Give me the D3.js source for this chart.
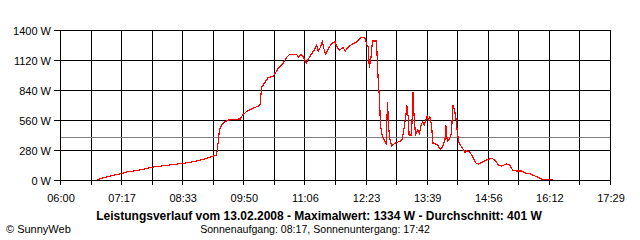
<!DOCTYPE html>
<html>
<head>
<meta charset="utf-8">
<script src="https://cdn.jsdelivr.net/npm/d3@7"></script>
<style>
html,body{margin:0;padding:0;background:#fff;}
svg{display:block;}
text{font-family:"Liberation Sans",Arial,sans-serif;}
</style>
</head>
<body>
<svg id="chart" width="640" height="240"></svg>
<script>
// ---- data ----
const times = ["06:46","06:54","07:03","07:13","07:24","07:40","07:57","08:14","08:35","08:47","09:00","09:10","09:16","09:17","09:19","09:20","09:23","09:27","09:33","09:46","09:49","09:54","10:02","10:09","10:11","10:13","10:15","10:21","10:27","10:30","10:34","10:39","10:45","10:48","10:57","10:59","11:02","11:05","11:09","11:11","11:16","11:19","11:22","11:24","11:27","11:29","11:31","11:33","11:37","11:41","11:45","11:48","11:51","11:55","11:58","12:02","12:08","12:12","12:16","12:20","12:23","12:25","12:27","12:28","12:30","12:32","12:37","12:39","12:41","12:42","12:44","12:48","12:49","12:51","12:52","12:54","12:56","13:00","13:07","13:09","13:11","13:14","13:15","13:17","13:18","13:21","13:23","13:24","13:26","13:29","13:31","13:33","13:35","13:37","13:39","13:41","13:42","13:44","13:46","13:48","13:53","13:57","14:00","14:03","14:04","14:06","14:09","14:11","14:13","14:15","14:17","14:18","14:20","14:22","14:26","14:28","14:30","14:34","14:38","14:42","14:45","14:51","14:55","15:02","15:06","15:10","15:14","15:20","15:24","15:28","15:33","15:39","15:43","15:50","15:56","16:00","16:04","16:08","16:18"];
const power = [0,19,37,53,75,93,121,137,156,171,193,218,233,264,389,467,513,544,566,569,607,638,669,691,706,871,887,955,966,995,1048,1080,1151,1173,1173,1142,1173,1151,1089,1120,1182,1213,1260,1204,1244,1291,1229,1173,1229,1276,1291,1236,1213,1236,1204,1244,1276,1285,1322,1334,1322,1260,1244,1042,1135,1297,1297,964,731,513,420,351,342,731,513,373,320,342,364,373,451,607,700,576,420,420,824,622,420,467,435,513,544,513,560,607,560,591,513,342,333,289,311,373,513,358,389,435,700,653,560,482,358,327,286,255,273,264,211,156,149,171,187,202,180,140,131,149,140,93,84,84,68,56,37,25,9,6,6];
const yTicks = [0,280,560,840,1120,1400];
const xTickLabels = ["06:00","07:17","08:33","09:50","11:06","12:23","13:39","14:56","16:12","17:29"];
const average = 401;
const title = "Leistungsverlauf vom 13.02.2008 - Maximalwert: 1334 W - Durchschnitt: 401 W";
const subtitle = "Sonnenaufgang: 08:17, Sonnenuntergang: 17:42";
const credit = "\u00A9 SunnyWeb";

// ---- layout ----
const svg = d3.select("#chart");
const L = 60, R = 610, T = 30, B = 180;
const toMin = s => { const [h,m] = s.split(":").map(Number); return h*60+m; };
const x = d3.scaleLinear().domain([360, 1050]).range([L, R]);
const y = d3.scaleLinear().domain([0, 1400]).range([B, T]);

const nV = 18;
const vMinutes = d3.range(nV + 1).map(i => 360 + i * (690 / nV));

const g = svg.append("g").attr("shape-rendering", "crispEdges");

// vertical gridlines (with ticks below)
g.selectAll("line.v").data(vMinutes).enter().append("line")
  .attr("x1", d => Math.round(x(d)) + 0.5).attr("x2", d => Math.round(x(d)) + 0.5)
  .attr("y1", T).attr("y2", B + 5)
  .attr("stroke", "#000").attr("stroke-width", 1);

// horizontal gridlines (with ticks left)
g.selectAll("line.h").data(yTicks).enter().append("line")
  .attr("x1", L - 6).attr("x2", R + 1)
  .attr("y1", d => Math.round(y(d)) + 0.5).attr("y2", d => Math.round(y(d)) + 0.5)
  .attr("stroke", "#000").attr("stroke-width", 1);

// average line
g.append("line")
  .attr("x1", L + 1).attr("x2", R)
  .attr("y1", Math.round(y(average)) + 0.5).attr("y2", Math.round(y(average)) + 0.5)
  .attr("stroke", "#808080").attr("stroke-width", 1);

// y labels
svg.selectAll("text.yl").data(yTicks).enter().append("text")
  .attr("x", 51).attr("y", d => Math.round(y(d)) + 4.5)
  .attr("text-anchor", "end").attr("font-size", "11px").attr("fill", "#000")
  .text(d => d + " W");

// x labels
svg.selectAll("text.xl").data(xTickLabels).enter().append("text")
  .attr("x", (d, i) => x(vMinutes[i * 2]) + 1).attr("y", 202)
  .attr("text-anchor", "middle").attr("font-size", "11px").attr("fill", "#000")
  .text(d => d);

// data line
const data = times.map((t, i) => ({ t: toMin(t), v: power[i] }));
svg.append("path").datum(data)
  .attr("d", d3.line().x(d => x(d.t)).y(d => y(d.v)))
  .attr("fill", "none").attr("stroke", "#ff0000").attr("stroke-width", 1.2)
  .attr("shape-rendering", "crispEdges")
  .attr("stroke-linejoin", "miter");

// texts
svg.append("text").attr("x", 319).attr("y", 220).attr("text-anchor", "middle")
  .attr("font-size", "12px").attr("font-weight", "bold").attr("fill", "#000")
  .text(title);
svg.append("text").attr("x", 315).attr("y", 233).attr("text-anchor", "middle")
  .attr("font-size", "10.6px").attr("fill", "#000")
  .text(subtitle);
svg.append("text").attr("x", 6).attr("y", 233)
  .attr("font-size", "11px").attr("fill", "#000")
  .text(credit);
</script>
</body>
</html>
